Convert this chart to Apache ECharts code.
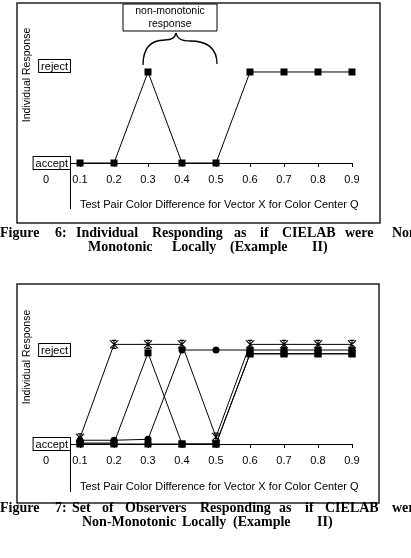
<!DOCTYPE html>
<html>
<head>
<meta charset="utf-8">
<script src="https://cdn.jsdelivr.net/npm/echarts@6/dist/echarts.min.js"></script>
<style>
  html, body { margin: 0; padding: 0; background: #fff; }
  #main { width: 411px; height: 558px; }
</style>
</head>
<body>
<div id="main"></div>
<script>
// tick labels of the difference axis, points are measured at 0.1..0.9
var xLabels = ['0', '0.1', '0.2', '0.3', '0.4', '0.5', '0.6', '0.7', '0.8', '0.9'];
var xPoints = ['0.1', '0.2', '0.3', '0.4', '0.5', '0.6', '0.7', '0.8', '0.9'];
var yLabels = ['accept', 'reject']; // 0 = accept, 1 = reject

// figure 6 : one observer
var fig6 = [0, 0, 1, 0, 0, 1, 1, 1, 1];

// figure 7 : four observers (slightly offset so the lines can be told apart)
var fig7Star = [0.065, 1.06, 1.06, 1.06, 0.075, 1.06, 1.06, 1.06, 1.06];
var fig7Circle = [0.04, 0.04, 0.05, 1, 1, 1, 1, 1, 1];
var fig7SquareA = [0.01, 0.01, 0.97, 0, 0, 0.96, 0.96, 0.96, 0.96];
var fig7SquareB = [0, 0, 0, 0, 0, 0.96, 0.96, 0.96, 0.96];

var FONT = 'Liberation Sans';
var starPath = 'path://M0,0L10,10M10,0L0,10M5,0L5,10M2,0L8,0M2,10L8,10';

function pts(vals) {
  return xPoints.map(function (x, i) { return [x, vals[i]]; });
}

function xAx(gi) {
  return {
    gridIndex: gi, type: 'category', data: xLabels, boundaryGap: false, z: 1,
    axisLine: { onZero: false, lineStyle: { color: '#000', width: 1 } },
    axisTick: { length: 4, interval: 0, lineStyle: { color: '#000' } },
    axisLabel: { interval: 0, color: '#000', fontFamily: FONT, fontSize: 11, margin: 11 },
    splitLine: { show: false }
  };
}

function yAx(gi, max, lift) {
  return {
    gridIndex: gi, type: 'value', min: 0, max: max, offset: -24, z: 3,
    axisLine: { onZero: false, lineStyle: { color: '#000', width: 1 } },
    axisTick: { show: false },
    splitLine: { show: false },
    axisLabel: {
      customValues: [0, 1], margin: 0,
      formatter: function (v) {
        if (v === 0) return '{b|' + yLabels[0] + '}';
        if (v === 1) return lift ? '{b|' + yLabels[1] + '}\n{g|}' : '{b|' + yLabels[1] + '}';
        return '';
      },
      rich: {
        b: {
          fontFamily: FONT, fontSize: 11, color: '#000', lineHeight: 12,
          borderColor: '#000', borderWidth: 1, backgroundColor: '#fff', padding: [1, 2, 0, 2]
        },
        g: { height: 12, lineHeight: 12 }
      }
    }
  };
}

function line(name, gi, vals, symbol, size) {
  var s = {
    name: name, type: 'line', xAxisIndex: gi, yAxisIndex: gi,
    data: pts(vals), symbol: symbol, symbolSize: size, clip: false,
    lineStyle: { color: '#000', width: 1 },
    itemStyle: { color: '#000' },
    animation: false
  };
  if (symbol === starPath) {
    s.itemStyle = { color: '#000', borderColor: '#000', borderWidth: 1.1 };
  }
  return s;
}

function caption(words, y) {
  return words.map(function (w) {
    return {
      type: 'text', x: w[1], y: y,
      style: { text: w[0], font: 'bold 14px "Liberation Serif"', fill: '#000', verticalAlign: 'middle' }
    };
  });
}

function curve(a) {
  return {
    type: 'bezierCurve',
    shape: { x1: a[0], y1: a[1], cpx1: a[2], cpy1: a[3], cpx2: a[4], cpy2: a[5], x2: a[6], y2: a[7] },
    style: { fill: 'none', stroke: '#000', lineWidth: 1.3 }
  };
}

var graphics = [
  { type: 'rect', shape: { x: 17, y: 3, width: 363, height: 220 }, style: { fill: 'none', stroke: '#222', lineWidth: 1.5 } },
  { type: 'rect', shape: { x: 17, y: 284, width: 362, height: 219 }, style: { fill: 'none', stroke: '#222', lineWidth: 1.5 } },
  // vertical axis continues below the accept level
  { type: 'line', shape: { x1: 70.5, y1: 163, x2: 70.5, y2: 209 }, style: { stroke: '#000', lineWidth: 1 } },
  { type: 'line', shape: { x1: 70.5, y1: 444, x2: 70.5, y2: 492 }, style: { stroke: '#000', lineWidth: 1 } },
  { type: 'text', x: 27, y: 75, rotation: Math.PI / 2,
    style: { text: 'Individual Response', font: '10.5px "' + FONT + '"', fill: '#000', align: 'center', verticalAlign: 'middle' } },
  { type: 'text', x: 27, y: 357, rotation: Math.PI / 2,
    style: { text: 'Individual Response', font: '10.5px "' + FONT + '"', fill: '#000', align: 'center', verticalAlign: 'middle' } },
  { type: 'text', x: 80, y: 205,
    style: { text: 'Test Pair Color Difference for Vector X for Color Center Q', font: '11px "' + FONT + '"', fill: '#000', verticalAlign: 'middle' } },
  { type: 'text', x: 80, y: 487,
    style: { text: 'Test Pair Color Difference for Vector X for Color Center Q', font: '11px "' + FONT + '"', fill: '#000', verticalAlign: 'middle' } },
  // note box and brace
  { type: 'rect', shape: { x: 123, y: 4, width: 94, height: 27 }, style: { fill: '#fff', stroke: '#000', lineWidth: 1 } },
  { type: 'text', x: 170, y: 18,
    style: { text: 'non-monotonic\nresponse', font: '10.5px "' + FONT + '"', fill: '#000', align: 'center', verticalAlign: 'middle', lineHeight: 13 } },
  curve([143, 65, 143, 48, 150, 40, 165, 40]),
  curve([165, 40, 172, 40, 175, 38, 176, 33]),
  curve([176, 33, 177, 38, 180, 41, 190, 41]),
  curve([190, 41, 208, 41, 217, 48, 217, 64])
];

graphics = graphics
  .concat(caption([['Figure', 0], ['6:', 55], ['Individual', 76], ['Responding', 152], ['as', 234], ['if', 260], ['CIELAB', 282], ['were', 345], ['Non-', 392]], 233))
  .concat(caption([['Monotonic', 88], ['Locally', 172], ['(Example', 230], ['II)', 312]], 247))
  .concat(caption([['Figure', 0], ['7:', 55], ['Set', 72], ['of', 102], ['Observers', 125], ['Responding', 200], ['as', 279], ['if', 305], ['CIELAB', 325], ['were', 392]], 508))
  .concat(caption([['Non-Monotonic', 82], ['Locally', 182], ['(Example', 233], ['II)', 317]], 522));

var chart = echarts.init(document.getElementById('main'), null, { renderer: 'canvas' });
chart.setOption({
  animation: false,
  backgroundColor: '#fff',
  grid: [
    { left: 46, top: 15, width: 306, height: 148 },
    { left: 46, top: 299, width: 306, height: 145 }
  ],
  xAxis: [xAx(0), xAx(1)],
  yAxis: [yAx(0, 1.626, true), yAx(1, 1.543, false)],
  series: [
    line('Observer', 0, fig6, 'rect', 7),
    line('Observer 1', 1, fig7Star, starPath, 8),
    line('Observer 2', 1, fig7Circle, 'circle', 7),
    line('Observer 3', 1, fig7SquareA, 'rect', 7),
    line('Observer 4', 1, fig7SquareB, 'rect', 7)
  ],
  graphic: graphics
});
</script>
</body>
</html>
